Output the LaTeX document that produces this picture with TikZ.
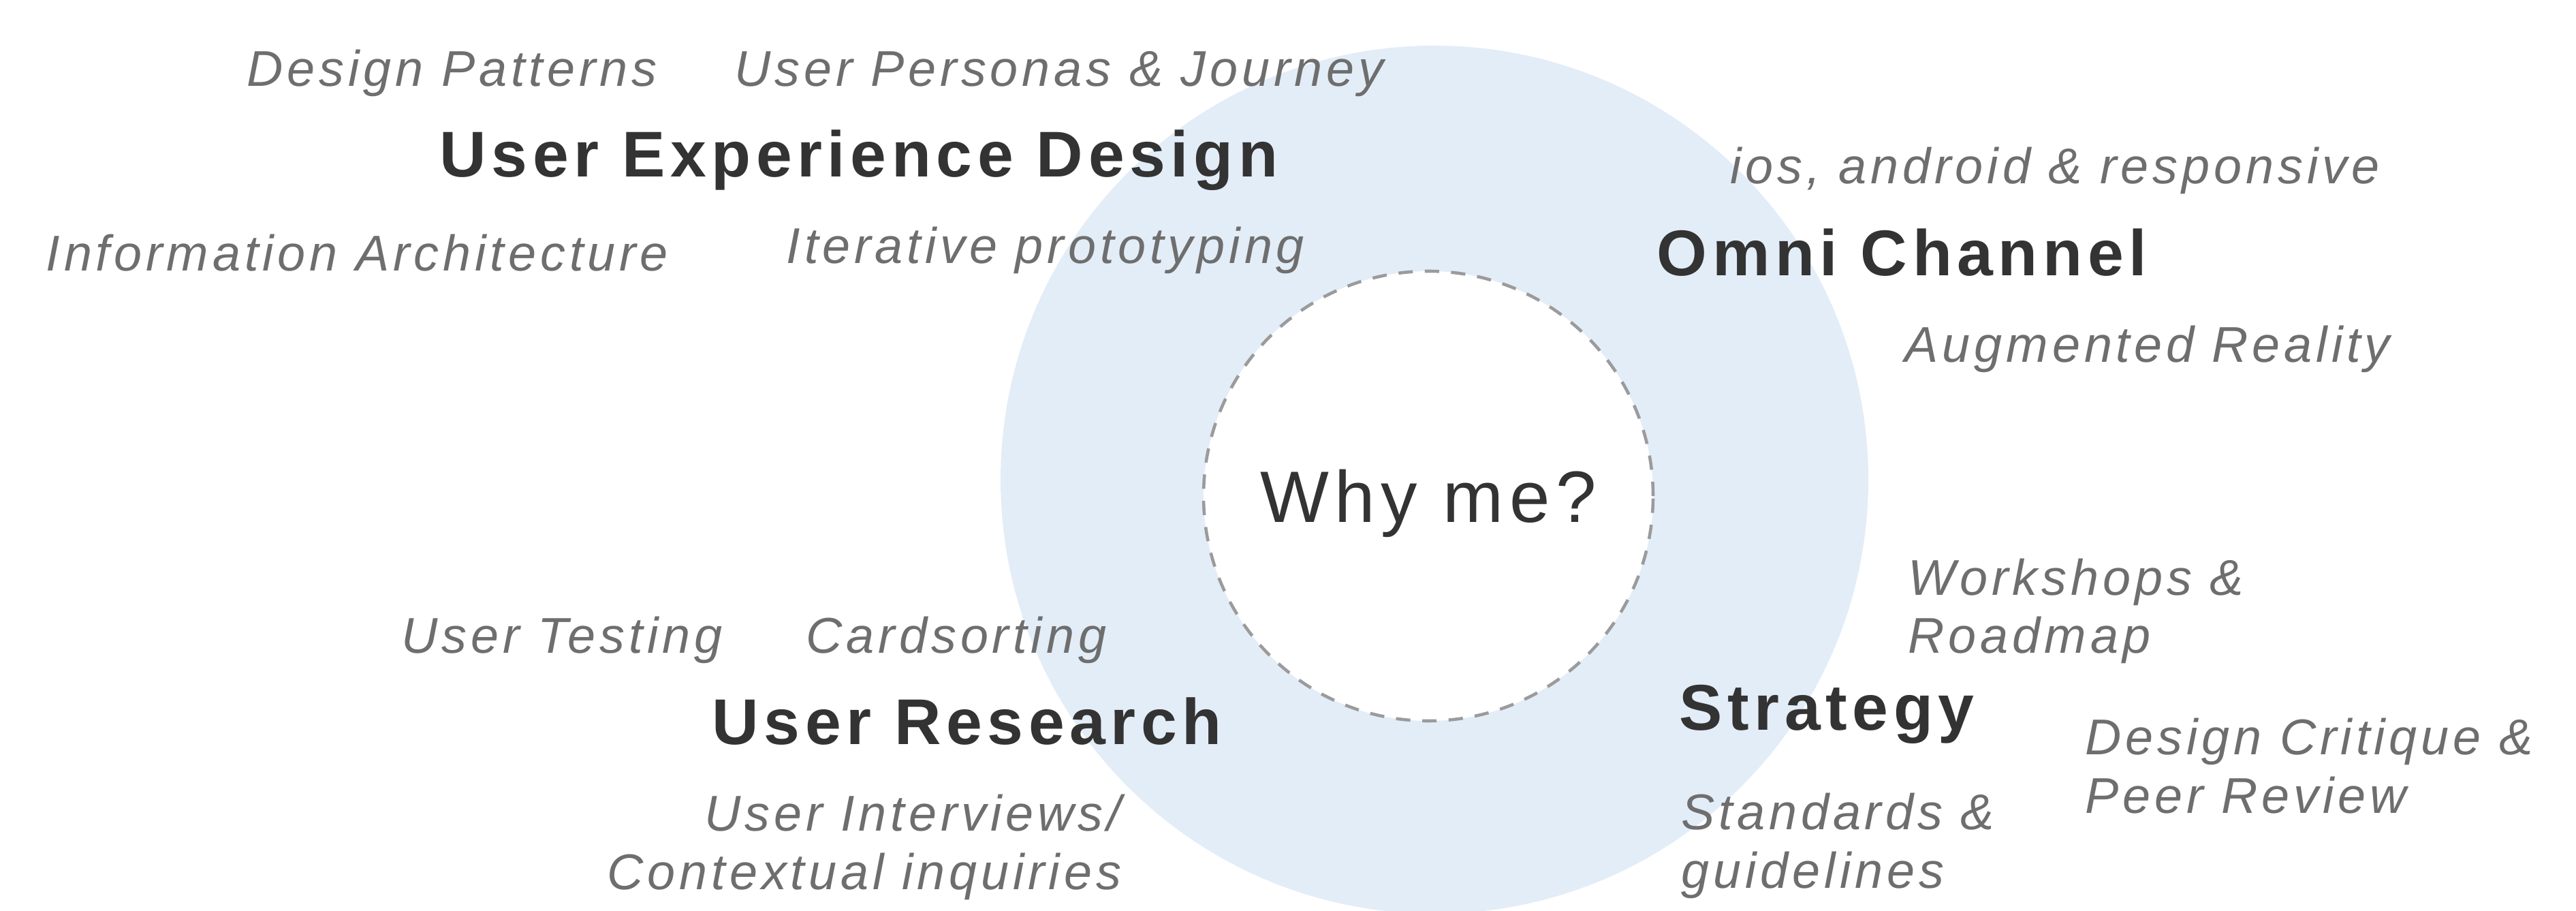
\documentclass[tikz,border=0pt]{standalone}
\usepackage{fontspec}
\setmainfont{Liberation Sans}
\newfontfamily\headfont[LetterSpace=8]{Liberation Sans}
\newfontfamily\skillfont[LetterSpace=8]{Liberation Sans}

\definecolor{ringblue}{HTML}{E3EDF8}
\definecolor{darktext}{HTML}{333333}
\definecolor{skillgray}{HTML}{6E6E6E}
\definecolor{dashgray}{HTML}{9B9B9B}

\begin{document}
\begin{tikzpicture}[
  topic/.style={font=\headfont\bfseries\fontsize{27pt}{32pt}\selectfont, text=darktext, inner sep=0pt, anchor=base west},
  skill/.style={font=\skillfont\itshape\fontsize{21pt}{24.2pt}\selectfont, text=skillgray, inner sep=0pt, anchor=base west, align=left},
  hub/.style={circle, minimum size=6.6cm, inner sep=0pt, fill=white, draw=dashgray, line width=1.3pt, dash pattern=on 6pt off 5pt, text=darktext, text depth=0pt, font=\headfont\fontsize{30.4pt}{36pt}\selectfont}
]
\useasboundingbox (0,0) rectangle (37.82,13.36);
\clip (0,0) rectangle (37.82,13.36);

\fill[ringblue] (21.06,6.32) circle (6.37);
\node[hub] (why) at (20.97,6.08) {Why me?};

\node[skill] (patterns) at (3.62,12.09) {Design Patterns};
\node[skill] (personas) at (10.78,12.09) {User Personas \& Journey};
\node[topic] (uxd) at (6.45,10.76) {User Experience Design};
\node[skill] (infoarch) at (0.67,9.38) {Information Architecture};
\node[skill] (iterative) at (11.54,9.49) {Iterative prototyping};

\node[skill] (platforms) at (25.40,10.66) {ios, android \& responsive};
\node[topic] (omni) at (24.32,9.31) {Omni Channel};
\node[skill] (augmented) at (27.96,8.04) {Augmented Reality};

\node[skill] (workshops) at (28.01,3.77) {Workshops \&\\Roadmap};
\node[topic] (strategy) at (24.65,2.65) {Strategy};
\node[skill] (critique) at (30.61,1.43) {Design Critique \&\\Peer Review};
\node[skill] (standards) at (24.68,0.33) {Standards \&\\guidelines};

\node[skill] (testing) at (5.89,3.78) {User Testing};
\node[skill] (cardsort) at (11.83,3.78) {Cardsorting};
\node[topic] (research) at (10.45,2.44) {User Research};
\node[skill, anchor=base east, align=right] (interviews) at (16.47,0.31) {User Interviews/\\Contextual inquiries};
\end{tikzpicture}
\end{document}
